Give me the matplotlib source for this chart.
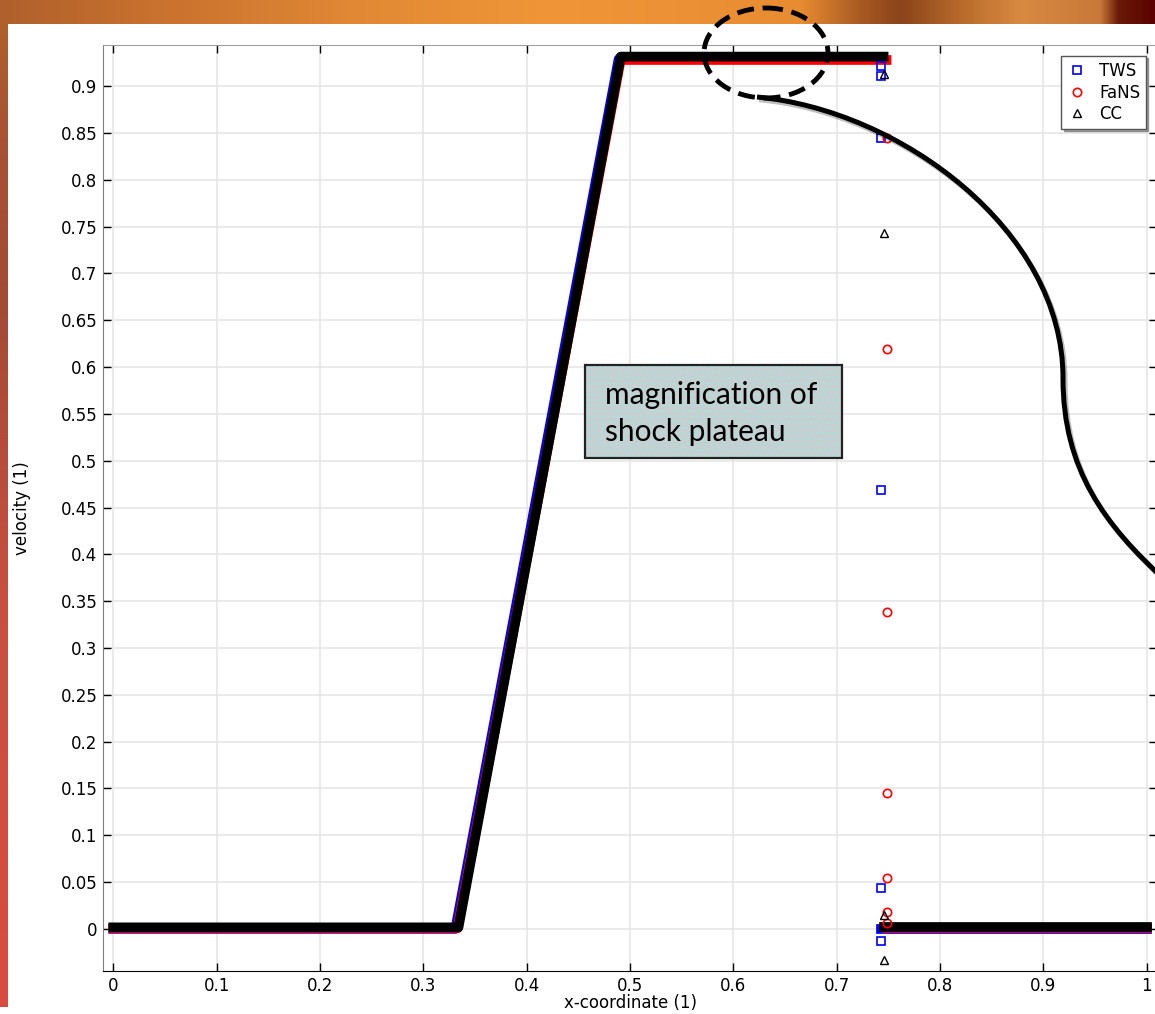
import numpy as np
import matplotlib.pyplot as plt
import matplotlib.patheffects as pe
from matplotlib.patches import Rectangle, Ellipse, PathPatch
from matplotlib.path import Path

# velocity profiles: vertices of the piecewise-linear solution, ahead of the shock
x_tws = [0.0, 0.331, 0.489, 0.7425]
v_tws = [0.0, 0.0, 0.929, 0.929]
x_fans = [0.0, 0.333, 0.491, 0.7483]
v_fans = [0.0005, 0.0005, 0.928, 0.928]
x_cc = [0.0, 0.334, 0.491, 0.7454]
v_cc = [0.0016, 0.0016, 0.9316, 0.9316]

# quiescent state behind the shock
x_tws_post = [0.7425, 1.0]
v_tws_post = [0.0, 0.0]
x_fans_post = [0.7483, 1.0]
v_fans_post = [0.0005, 0.0005]
x_cc_post = [0.7454, 1.0]
v_cc_post = [0.0016, 0.0016]

# points resolved inside the shock
shock_x_tws = 0.7425
shock_v_tws = [0.922, 0.911, 0.845, 0.469, 0.044, -0.013]
shock_x_fans = 0.7483
shock_v_fans = [0.845, 0.619, 0.338, 0.145, 0.054, 0.018, 0.006]
shock_x_cc = 0.7454
shock_v_cc = [0.913, 0.743, 0.015, -0.033]

x_ticks = np.round(np.arange(0, 1.01, 0.1), 2)
y_ticks = np.round(np.arange(0, 0.901, 0.05), 2)

W, H = 1155, 1014
fig = plt.figure(figsize=(W / 100, H / 100), dpi=100)
fig.patch.set_facecolor("white")

# slide background behind the plot panel
bg = fig.add_axes([0, 0, 1, 1])
bg.set_xlim(0, W)
bg.set_ylim(H, 0)
bg.axis("off")

band_x = [0, 150, 350, 550, 800, 860, 900, 960, 1020, 1100, 1118, 1155]
band_c = ["#b0602c", "#c8702e", "#e08834", "#f09638", "#e88c32", "#a85a22",
          "#8a441a", "#b86a2a", "#d88a42", "#c87838", "#6a1a08", "#5a0000"]
band_rgb = np.array([[int(c[i:i + 2], 16) / 255 for i in (1, 3, 5)] for c in band_c])
xs = np.arange(W)
band = np.stack([np.interp(xs, band_x, band_rgb[:, k]) for k in range(3)], axis=-1)
bg.imshow(band[None, :, :], extent=(0, W, 24, 0), aspect="auto", interpolation="bilinear")

strip_y = [24, 120, 300, 600, 1007]
strip_c = ["#b0602c", "#a85434", "#a24a36", "#c85040", "#d84c40"]
strip_rgb = np.array([[int(c[i:i + 2], 16) / 255 for i in (1, 3, 5)] for c in strip_c])
ys = np.arange(24, 1007)
strip = np.stack([np.interp(ys, strip_y, strip_rgb[:, k]) for k in range(3)], axis=-1)
bg.imshow(strip[:, None, :], extent=(0, 8, 1007, 24), aspect="auto", interpolation="bilinear")

# main plot
ax = fig.add_axes([103 / W, 43 / H, 1054 / W, 926 / H])
ax.set_xlim(-0.01, 1.01)
ax.set_ylim(-0.045, 0.944)

lw = 7
ax.plot(x_tws, v_tws, color="#0000ff", lw=lw, solid_joinstyle="round", zorder=2)
ax.plot(x_tws_post, v_tws_post, color="#0000ff", lw=lw, zorder=2)
ax.plot(x_fans, v_fans, color="#ff0000", lw=lw, solid_joinstyle="round", zorder=3)
ax.plot(x_fans_post, v_fans_post, color="#ff0000", lw=lw, zorder=3)
ax.plot(x_cc, v_cc, color="black", lw=lw, solid_joinstyle="round", zorder=4)
ax.plot(x_cc_post, v_cc_post, color="black", lw=lw, zorder=4)

ax.plot([shock_x_tws] * len(shock_v_tws), shock_v_tws, ls="none", marker="s",
        ms=5.5, mfc="none", mec="#0000ff", mew=1.2, zorder=5, label="TWS")
ax.plot([shock_x_fans] * len(shock_v_fans), shock_v_fans, ls="none", marker="o",
        ms=6, mfc="none", mec="#ff0000", mew=1.2, zorder=5, label="FaNS")
ax.plot([shock_x_cc] * len(shock_v_cc), shock_v_cc, ls="none", marker="^",
        ms=6, mfc="none", mec="black", mew=1.0, zorder=5, label="CC")

ax.set_xticks(x_ticks)
ax.set_xticklabels([f"{t:g}" for t in x_ticks])
ax.set_yticks(y_ticks)
ax.set_yticklabels([f"{t:g}" for t in y_ticks])
ax.tick_params(direction="in", top=True, right=True, length=6, width=1,
               labelsize=12, pad=4)
ax.grid(True, color="#e6e6e6", lw=1.2)
ax.set_axisbelow(True)
ax.spines["left"].set_color("#808080")
ax.spines["top"].set_color("#a0a0a0")
ax.spines["right"].set_color("#a0a0a0")
ax.spines["bottom"].set_color("black")

ax.set_ylabel("velocity (1)", fontsize=12)
ax.yaxis.set_label_coords(-0.068, 0.5)
ax.set_xlabel("x-coordinate (1)", fontsize=12, va="top")
ax.xaxis.set_label_coords(0.5, -0.0245)

leg = ax.legend(loc="upper right", bbox_to_anchor=(0.9895, 0.988), fontsize=12,
                fancybox=False, shadow={"ox": 1.5, "oy": -1.5}, edgecolor="#555555",
                framealpha=1, handlelength=1.2, handletextpad=0.7, labelspacing=0.22,
                borderpad=0.35, borderaxespad=0)
leg.get_frame().set_linewidth(1.0)

# callout overlay in pixel coordinates
ov = fig.add_axes([0, 0, 1, 1])
ov.set_xlim(0, W)
ov.set_ylim(H, 0)
ov.axis("off")
ov.patch.set_visible(False)

ov.add_patch(Ellipse((766, 53), 124, 90, fill=False, ec="black", lw=3.5,
                     ls=(0, (3.5, 1.8))))

verts = [(757, 97), (900, 110), (1063, 230), (1063, 378),
         (1063, 470), (1105, 525), (1165, 580)]
codes = [Path.MOVETO] + [Path.CURVE4] * 6
ov.add_patch(PathPatch(Path(verts, codes), fill=False, ec="black", lw=3.6,
                       path_effects=[pe.SimpleLineShadow(offset=(1.5, -2), alpha=0.25),
                                     pe.Normal()]))

ov.add_patch(Rectangle((585, 365), 257, 93, fc="#c6d0d0", ec="none"))
ov.add_patch(Rectangle((585, 365), 257, 93, fill=False, hatch="...",
                       ec="#a8e0e0", lw=0))
ov.add_patch(Rectangle((585, 365), 257, 93, fill=False, ec="#222222", lw=1.6))
ov.text(605, 381, "magnification of\nshock plateau", family="Lato", fontsize=21.5,
        va="top", ha="left", linespacing=1.4)

fig.savefig("out.png", dpi=100)
